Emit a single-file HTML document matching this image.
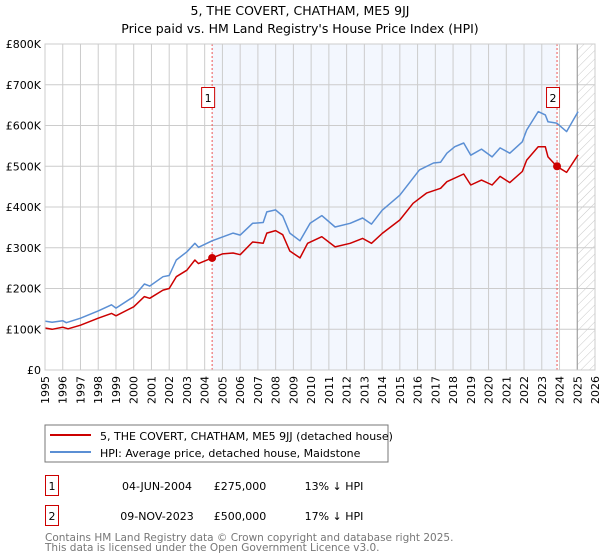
<!DOCTYPE html>
<html><head><meta charset="utf-8"><style>
body{margin:0;background:#fff;}
svg{display:block;font-family:"DejaVu Sans","Liberation Sans",sans-serif;}
</style></head><body>
<svg id="chart" width="600" height="560" viewBox="0 0 600 560">
<defs><pattern id="hatch" width="6" height="6" patternUnits="userSpaceOnUse" patternTransform="rotate(45)"><line x1="0" y1="0" x2="0" y2="6" stroke="#bbb" stroke-width="0.8"/></pattern></defs>
<text x="300" y="15" text-anchor="middle" font-size="12.5">5, THE COVERT, CHATHAM, ME5 9JJ</text>
<text x="300" y="33" text-anchor="middle" font-size="12.5">Price paid vs. HM Land Registry's House Price Index (HPI)</text>
<g id="plot"></g>
<rect x="45" y="425" width="343" height="37" fill="#fff" stroke="#777"/>
<line x1="50" y1="435" x2="91" y2="435" stroke="#cc0000" stroke-width="2"/>
<text x="100" y="440" font-size="11">5, THE COVERT, CHATHAM, ME5 9JJ (detached house)</text>
<line x1="50" y1="452" x2="91" y2="452" stroke="#5b8fd4" stroke-width="2"/>
<text x="100" y="457" font-size="11">HPI: Average price, detached house, Maidstone</text>
<g font-size="11">
<rect x="45.5" y="475.5" width="13" height="20" fill="#fff" stroke="#cc0000"/>
<text x="52" y="490" text-anchor="middle">1</text>
<text x="157" y="490" text-anchor="middle">04-JUN-2004</text>
<text x="240" y="490" text-anchor="middle">£275,000</text>
<text x="334" y="490" text-anchor="middle">13% ↓ HPI</text>
<rect x="45.5" y="505.5" width="13" height="20" fill="#fff" stroke="#cc0000"/>
<text x="52" y="520" text-anchor="middle">2</text>
<text x="157" y="520" text-anchor="middle">09-NOV-2023</text>
<text x="240" y="520" text-anchor="middle">£500,000</text>
<text x="334" y="520" text-anchor="middle">17% ↓ HPI</text>
</g>
<text x="45" y="541" font-size="10.5" fill="#777">Contains HM Land Registry data © Crown copyright and database right 2025.</text>
<text x="45" y="551" font-size="10.5" fill="#777">This data is licensed under the Open Government Licence v3.0.</text>
</svg>
<script>
const redDates=[1995.0,1995.4,1996.0,1996.3,1997.0,1998.0,1998.75,1999.0,2000.0,2000.6,2000.9,2001.65,2002.0,2002.4,2003.0,2003.45,2003.65,2004.42,2005.0,2005.6,2006.0,2006.7,2007.3,2007.5,2008.0,2008.4,2008.8,2009.37,2009.8,2010.6,2011.35,2012.2,2012.9,2013.4,2014.0,2015.0,2015.75,2016.5,2017.3,2017.65,2018.6,2019.0,2019.6,2020.2,2020.65,2021.2,2021.9,2022.15,2022.8,2023.2,2023.35,2023.84,2024.4,2025.05];
const redValues=[103,100,105,101,110,127,139,133,155,180,176,196,200,229,245,270,261,275,285,287,283,314,311,336,342,332,292,275,311,327,302,311,323,311,335,368,409,434,446,462,481,454,466,454,475,460,487,515,548,548,523,500,485,528];
const hpiDates=[1995.0,1995.4,1996.0,1996.2,1997.0,1998.0,1998.75,1999.0,2000.0,2000.6,2000.9,2001.65,2002.0,2002.4,2003.0,2003.45,2003.65,2004.42,2005.6,2006.0,2006.7,2007.3,2007.5,2008.0,2008.4,2008.8,2009.37,2009.94,2010.6,2011.35,2012.2,2012.9,2013.4,2014.0,2015.0,2016.1,2016.9,2017.3,2017.65,2018.1,2018.6,2019.0,2019.6,2020.2,2020.65,2021.2,2021.9,2022.15,2022.8,2023.2,2023.35,2023.84,2024.4,2025.05];
const hpiValues=[120,117,121,116,127,145,160,152,180,211,206,229,232,270,290,311,301,317,336,331,360,362,388,393,378,336,317,360,379,351,360,373,358,392,429,491,508,510,532,548,557,527,542,523,545,532,560,589,634,626,609,606,585,634];
const yTicks=[0,100,200,300,400,500,600,700,800];
const yTickLabels=["£0","£100K","£200K","£300K","£400K","£500K","£600K","£700K","£800K"];
const xYears=[1995,1996,1997,1998,1999,2000,2001,2002,2003,2004,2005,2006,2007,2008,2009,2010,2011,2012,2013,2014,2015,2016,2017,2018,2019,2020,2021,2022,2023,2024,2025,2026];
const saleDates=[2004.42,2023.86];
const saleValues=[275,500];
const saleLabels=["1","2"];

const X0=45,X1=595,Y0=370,Y1=44;
const xs=t=>X0+(t-1995)/31*(X1-X0);
const ys=v=>Y0-v/800*(Y0-Y1);
const NS="http://www.w3.org/2000/svg";
const g=document.getElementById('plot');
function mk(tag,attrs,parent){const e=document.createElementNS(NS,tag);for(const k in attrs)e.setAttribute(k,attrs[k]);(parent||g).appendChild(e);return e;}

let e=mk('rect',{x:xs(saleDates[0]),y:Y1,width:xs(saleDates[1])-xs(saleDates[0]),height:Y0-Y1,fill:'#eef3fd',opacity:0.7});


e=mk('rect',{x:xs(2025),y:Y1,width:X1-xs(2025),height:Y0-Y1,fill:'url(#hatch)'});


yTicks.forEach((v,i)=>{
  e=mk('line',{x1:X0,x2:X1,y1:ys(v),y2:ys(v),stroke:'#ccc','stroke-width':1});
  
  
  e=mk('text',{x:X0-4,y:ys(v)+4,'text-anchor':'end','font-size':11});
  e.textContent=yTickLabels[i];
  
  
});
xYears.forEach(yr=>{
  e=mk('line',{x1:xs(yr),x2:xs(yr),y1:Y1,y2:Y0,stroke:'#ccc','stroke-width':1});
  
  
  e=mk('text',{x:0,y:0,'font-size':11,'text-anchor':'end',transform:`translate(${xs(yr)+4},${Y0+6}) rotate(-90)`});
  e.textContent=yr;
  
  
});
e=mk('line',{x1:xs(2025),x2:xs(2025),y1:Y1,y2:Y0,stroke:'#999','stroke-width':1});


saleDates.forEach((d,i)=>{
  e=mk('line',{x1:xs(d),x2:xs(d),y1:Y1,y2:Y0,stroke:'#e55','stroke-width':1,'stroke-dasharray':'2,2'});
  
  
});
function path(ds,vs,col,name){
  const p=ds.map((d,i)=>(i?'L':'M')+xs(d).toFixed(1)+','+ys(vs[i]).toFixed(1)).join('');
  const el=mk('path',{d:p,fill:'none',stroke:col,'stroke-width':1.5,'stroke-linejoin':'round'});
  
  
}
path(hpiDates,hpiValues,'#5b8fd4','hpi-line');
path(redDates,redValues,'#cc0000','price-paid-line');
saleDates.forEach((d,i)=>{
  e=mk('circle',{cx:xs(d),cy:ys(saleValues[i]),r:4,fill:'#cc0000'});
  
  
  e=mk('rect',{x:xs(d)-10.5,y:87.5,width:13,height:20,fill:'#fff',stroke:'#cc0000'});
  
  
  e=mk('text',{x:xs(d)-4,y:102,'text-anchor':'middle','font-size':11});
  e.textContent=saleLabels[i];
  
  
});
e=mk('rect',{x:X0,y:Y1,width:X1-X0,height:Y0-Y1,fill:'none',stroke:'#ccc'});


</script>
</body></html>
